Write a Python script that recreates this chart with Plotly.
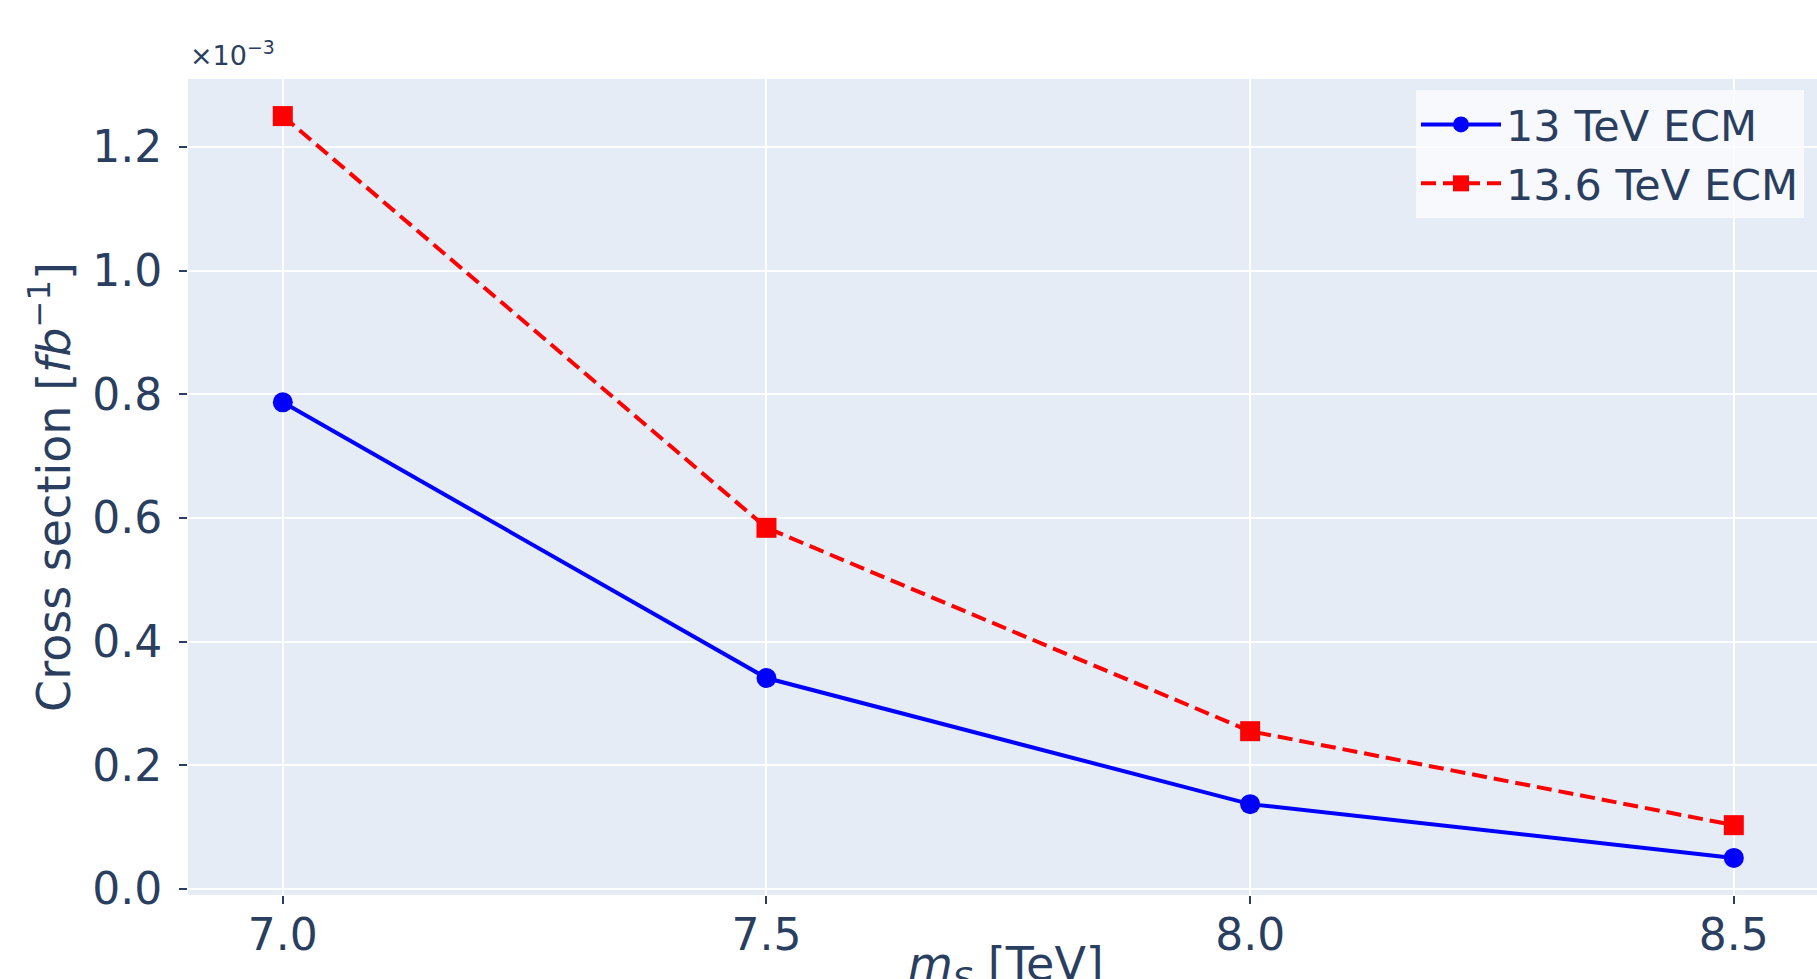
import plotly.graph_objects as go

# Data (cross sections in units of 1e-3 fb)
mass_tev = [7.0, 7.5, 8.0, 8.5]
xsec_13 = [0.787, 0.341, 0.137, 0.050]
xsec_136 = [1.250, 0.584, 0.255, 0.103]
series_names = ["13 TeV ECM", "13.6 TeV ECM"]
x_ticks = [7.0, 7.5, 8.0, 8.5]
y_ticks = [0.0, 0.2, 0.4, 0.6, 0.8, 1.0, 1.2]

W, H = 1817, 979
L, R, T, B = 188, 0, 79, 84
FONT = "DejaVu Sans"
TXT = "#2a3f5f"

fig = go.Figure()
fig.add_trace(go.Scatter(
    x=mass_tev, y=xsec_13, name=series_names[0], mode="lines+markers",
    line=dict(color="#0000ff", width=4),
    marker=dict(symbol="circle", size=20, color="#0000ff"),
))
fig.add_trace(go.Scatter(
    x=mass_tev, y=xsec_136, name=series_names[1], mode="lines+markers",
    line=dict(color="#ff0000", width=4, dash="15px,7px"),
    marker=dict(symbol="square", size=20, color="#ff0000"),
))

fig.update_layout(
    width=W, height=H,
    margin=dict(l=L, r=R, t=T, b=B, pad=0),
    paper_bgcolor="white",
    plot_bgcolor="#E5ECF6",
    font=dict(family=FONT, color=TXT, size=44),
    showlegend=True,
    legend=dict(
        x=(1416 - L) / (W - L - R), y=(H - B - 90) / (H - T - B),
        xanchor="left", yanchor="top",
        bgcolor="rgba(250,251,253,0.85)",
        font=dict(size=43, family=FONT, color=TXT),
        itemwidth=80, tracegroupgap=0,
    ),
    xaxis=dict(
        range=[6.902, 8.586], tickvals=x_ticks,
        ticktext=[f"{v:.1f}" for v in x_ticks],
        showgrid=True, gridcolor="white", gridwidth=2,
        zeroline=False, showline=False,
        ticks="outside", ticklen=8, tickwidth=2, tickcolor=TXT,
        tickfont=dict(size=44, family=FONT, color=TXT),
        ticklabelstandoff=-7,
    ),
    yaxis=dict(
        range=[-0.01, 1.31], tickvals=y_ticks,
        ticktext=[f"{v:.1f}" for v in y_ticks],
        showgrid=True, gridcolor="white", gridwidth=2,
        zeroline=False, showline=False,
        ticks="outside", ticklen=8, tickwidth=2, tickcolor=TXT,
        tickfont=dict(size=44, family=FONT, color=TXT),
        ticklabelstandoff=8,
        title=dict(text="Cross section [<i>fb</i><sup>−1</sup>]",
                   font=dict(size=46, family=FONT, color=TXT), standoff=7),
    ),
    annotations=[
        dict(text="×10<sup>−3</sup>", xref="paper", yref="paper",
             x=0.0, y=1.0, xanchor="left", yanchor="bottom", yshift=6,
             showarrow=False, font=dict(size=27, family=FONT, color=TXT)),
        dict(text="<i>m</i><sub><i>S</i></sub> [TeV]", xref="paper", yref="paper",
             x=(1006 - L) / (W - L - R), y=0, xanchor="center", yanchor="top",
             yshift=-40, showarrow=False,
             font=dict(size=46, family=FONT, color=TXT)),
    ],
)

fig.write_html(
    "out.html",
    config={"displayModeBar": False},
    post_script="document.body.style.margin='0';document.body.style.overflow='hidden';",
)
